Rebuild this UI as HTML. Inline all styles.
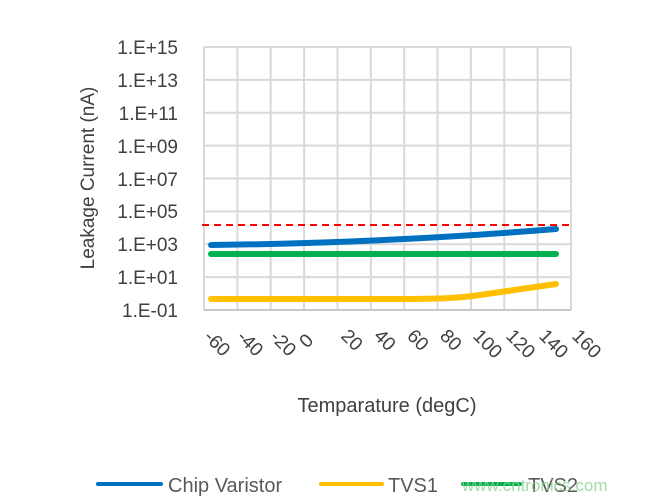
<!DOCTYPE html>
<html><head><meta charset="utf-8"><style>
html,body{margin:0;padding:0;background:#fff;}
svg{display:block;font-family:"Liberation Sans",sans-serif;}
</style></head><body>
<svg width="650" height="498" viewBox="0 0 650 498" xmlns="http://www.w3.org/2000/svg">
<rect width="650" height="498" fill="#fff"/>
<g stroke="#d9d9d9" stroke-width="2" fill="none">
<line x1="204" y1="47" x2="204" y2="310"/><line x1="237.4" y1="47" x2="237.4" y2="310"/><line x1="270.7" y1="47" x2="270.7" y2="310"/><line x1="304.1" y1="47" x2="304.1" y2="310"/><line x1="337.5" y1="47" x2="337.5" y2="310"/><line x1="370.8" y1="47" x2="370.8" y2="310"/><line x1="404.2" y1="47" x2="404.2" y2="310"/><line x1="437.5" y1="47" x2="437.5" y2="310"/><line x1="470.9" y1="47" x2="470.9" y2="310"/><line x1="504.3" y1="47" x2="504.3" y2="310"/><line x1="537.6" y1="47" x2="537.6" y2="310"/><line x1="571" y1="47" x2="571" y2="310"/>
<line x1="204" y1="47" x2="571" y2="47"/><line x1="204" y1="79.9" x2="571" y2="79.9"/><line x1="204" y1="112.8" x2="571" y2="112.8"/><line x1="204" y1="145.6" x2="571" y2="145.6"/><line x1="204" y1="178.5" x2="571" y2="178.5"/><line x1="204" y1="211.4" x2="571" y2="211.4"/><line x1="204" y1="244.3" x2="571" y2="244.3"/><line x1="204" y1="277.1" x2="571" y2="277.1"/>
</g>
<line x1="204" y1="310" x2="571" y2="310" stroke="#c8c8c8" stroke-width="2"/>
<line x1="202" y1="225" x2="571" y2="225" stroke="#ff0000" stroke-width="2" stroke-dasharray="7,5"/>
<path d="M211 245 C300 244 420 240 556 229" stroke="#0070c0" stroke-width="6" fill="none" stroke-linecap="round"/>
<path d="M211 254 L556 254" stroke="#00b050" stroke-width="6" fill="none" stroke-linecap="round"/>
<path d="M211 299 L400 299 C440 299 460 298 480 295 L556 284" stroke="#ffc000" stroke-width="6" fill="none" stroke-linecap="round"/>
<g fill="#404040" font-size="19" text-anchor="end">
<text x="178" y="54">1.E+15</text><text x="178" y="87">1.E+13</text><text x="178" y="120">1.E+11</text><text x="178" y="153">1.E+09</text><text x="178" y="186">1.E+07</text><text x="178" y="218">1.E+05</text><text x="178" y="251">1.E+03</text><text x="178" y="284">1.E+01</text><text x="178" y="317">1.E-01</text>
</g>
<text transform="translate(94,178) rotate(-90)" text-anchor="middle" fill="#404040" font-size="19">Leakage Current (nA)</text>
<g fill="#404040" font-size="19">
<text transform="translate(203,338) rotate(45)">-60</text>
<text transform="translate(236,338) rotate(45)">-40</text>
<text transform="translate(269,338) rotate(45)">-20</text>
<text transform="translate(307,349) rotate(-45)">0</text>
<text transform="translate(340,337) rotate(45)">20</text>
<text transform="translate(373,337) rotate(45)">40</text>
<text transform="translate(406,337) rotate(45)">60</text>
<text transform="translate(439,337) rotate(45)">80</text>
<text transform="translate(472,337) rotate(45)">100</text>
<text transform="translate(505,337) rotate(45)">120</text>
<text transform="translate(538,337) rotate(45)">140</text>
<text transform="translate(571,337) rotate(45)">160</text>
</g>
<text x="387" y="412" text-anchor="middle" fill="#404040" font-size="20">Temparature (degC)</text>
<line x1="98" y1="484" x2="161" y2="484" stroke="#0070c0" stroke-width="4" stroke-linecap="round"/>
<text x="168" y="492" fill="#595959" font-size="20">Chip Varistor</text>
<line x1="321" y1="484" x2="382" y2="484" stroke="#ffc000" stroke-width="4" stroke-linecap="round"/>
<text x="388" y="492" fill="#595959" font-size="20">TVS1</text>
<line x1="463" y1="484" x2="520" y2="484" stroke="#00b050" stroke-width="4" stroke-linecap="round"/>
<text x="528" y="492" fill="#595959" font-size="20">TVS2</text>
<text x="462" y="491" fill="#8fd08f" font-size="17" opacity="0.8">www.cntronics.com</text>
</svg>
</body></html>
